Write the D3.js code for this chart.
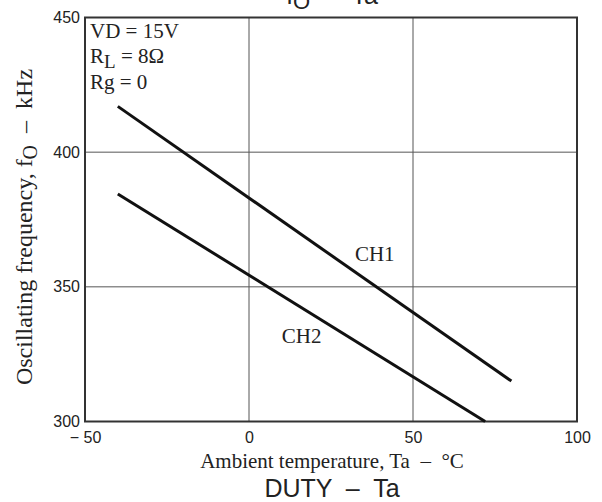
<!DOCTYPE html>
<html><head><meta charset="utf-8">
<script src="https://cdn.jsdelivr.net/npm/d3@7"></script>
<style>body{margin:0;background:#fff}svg{display:block}svg text{white-space:pre}</style>
</head><body>
<svg id="c" width="602" height="502"></svg>
<script>
const xTicks = [-50, 0, 50, 100];
const yTicks = [300, 350, 400, 450];
const xTickLabels = ["\u2212 50", "0", "50", "100"];
const ch1Ta = [-40, 80];
const ch1F = [417, 315];
const ch2Ta = [-40, 72];
const ch2F = [384.5, 300];
const seriesNames = ["CH1", "CH2"];
const conditions = ["VD = 15V", "RL = 8\u03A9", "Rg = 0"];

const svg = d3.select("#c");
const L = 85, R = 577, T = 17.5, B = 421.5;
const x = d3.scaleLinear().domain([-50, 100]).range([L, R]);
const y = d3.scaleLinear().domain([300, 450]).range([B, T]);
const sans = "'Liberation Sans', Arial, sans-serif";
const serif = "'Liberation Serif', 'Times New Roman', serif";

// grid
const g = svg.append("g");
g.selectAll(".vx").data(xTicks.slice(1, -1)).join("line")
  .attr("x1", d => x(d)).attr("x2", d => x(d)).attr("y1", T).attr("y2", B)
  .attr("stroke", "#555").attr("stroke-width", 1);
g.selectAll(".hy").data(yTicks.slice(1, -1)).join("line")
  .attr("y1", d => y(d)).attr("y2", d => y(d)).attr("x1", L).attr("x2", R)
  .attr("stroke", "#555").attr("stroke-width", 1);

// axes labels via d3 axes
const xAxis = svg.append("g").attr("transform", `translate(0,${B})`)
  .call(d3.axisBottom(x).tickValues(xTicks).tickSize(0).tickPadding(10)
    .tickFormat((d, i) => xTickLabels[i]));
xAxis.select(".domain").remove();
xAxis.selectAll("text").attr("font-family", sans).attr("font-size", 16).attr("fill", "#222");

const yAxis = svg.append("g").attr("transform", `translate(${L},0)`)
  .call(d3.axisLeft(y).tickValues(yTicks).tickSize(0).tickPadding(5));
yAxis.select(".domain").remove();
yAxis.selectAll("text").attr("font-family", sans).attr("font-size", 16).attr("fill", "#222");

// frame
svg.append("rect").attr("x", L).attr("y", T).attr("width", R - L).attr("height", B - T)
  .attr("fill", "none").attr("stroke", "#333").attr("stroke-width", 2);

// lines
const line = d3.line().x(d => x(d[0])).y(d => y(d[1]));
const s1 = ch1Ta.map((t, i) => [t, ch1F[i]]);
const s2 = ch2Ta.map((t, i) => [t, ch2F[i]]);
[s1, s2].forEach(s => {
  svg.append("path").attr("d", line(s)).attr("fill", "none")
    .attr("stroke", "#111").attr("stroke-width", 3).attr("stroke-linecap", "butt");
});

// series labels
svg.append("text").attr("x", x(32.3)).attr("y", y(359.6)).text(seriesNames[0])
  .attr("font-family", serif).attr("font-size", 21).attr("fill", "#222");
svg.append("text").attr("x", x(10)).attr("y", y(329.1)).text(seriesNames[1])
  .attr("font-family", serif).attr("font-size", 21).attr("fill", "#222");

// conditions
const cond = svg.append("g").attr("font-family", serif).attr("font-size", 21).attr("fill", "#222");
cond.append("text").attr("x", 90).attr("y", 38).text(conditions[0]);
const rl = cond.append("text").attr("x", 90).attr("y", 63);
rl.append("tspan").text("R");
rl.append("tspan").attr("dy", 5).attr("font-size", 19).text("L");
rl.append("tspan").attr("dy", -5).text(" = 8\u03A9");
cond.append("text").attr("x", 90).attr("y", 89).text(conditions[2]);

// axis titles
svg.append("text").attr("x", 332).attr("y", 468).attr("text-anchor", "middle")
  .attr("font-family", serif).attr("font-size", 21).attr("fill", "#222")
  .text("Ambient temperature, Ta  \u2013  \u00B0C");

const yl = svg.append("text").attr("transform", "translate(32,227) rotate(-90)")
  .attr("text-anchor", "middle").attr("font-family", serif).attr("font-size", 24).attr("fill", "#222");
yl.append("tspan").text("Oscillating frequency, f");
yl.append("tspan").attr("dy", 5).attr("font-size", 20).text("O");
yl.append("tspan").attr("dy", -5).text("  \u2013  kHz");

// chart titles
const t1 = svg.append("text").attr("x", 332).attr("y", 4).attr("text-anchor", "middle")
  .attr("font-family", sans).attr("font-size", 25).attr("fill", "#222");
t1.append("tspan").text("f");
t1.append("tspan").attr("dy", 5).attr("font-size", 22).text("O");
t1.append("tspan").attr("dy", -5).text("  \u2013  Ta");

svg.append("text").attr("x", 332).attr("y", 497).attr("text-anchor", "middle")
  .attr("font-family", sans).attr("font-size", 25).attr("fill", "#222")
  .text("DUTY  \u2013  Ta");
</script>
</body></html>
